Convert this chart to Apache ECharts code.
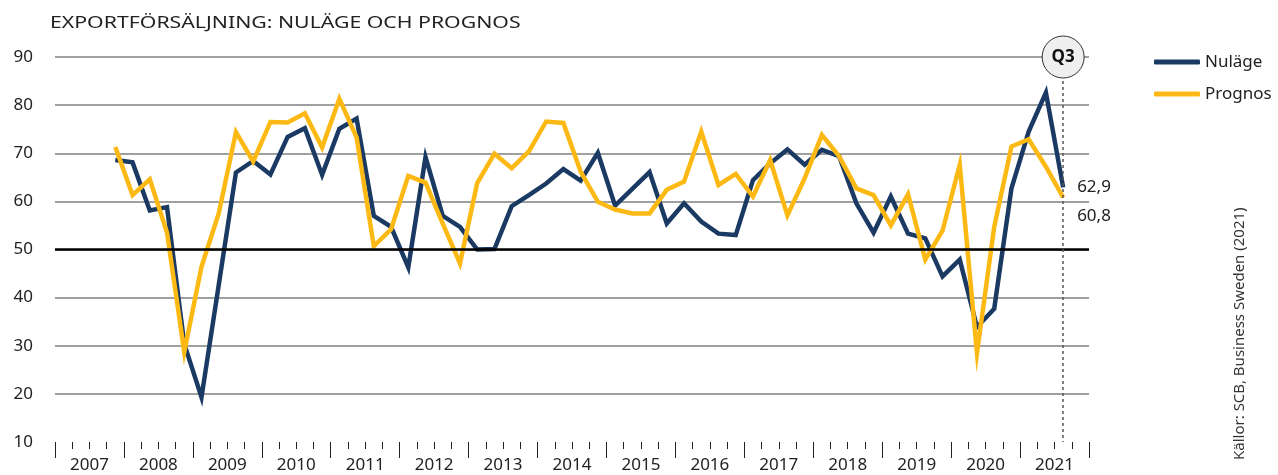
<!DOCTYPE html>
<html>
<head>
<meta charset="utf-8">
<script src="https://cdn.jsdelivr.net/npm/echarts@6/dist/echarts.min.js"></script>
<style>
html,body{margin:0;padding:0;background:#fff;}
#chart{width:1278px;height:475px;}
</style>
</head>
<body>
<div id="chart"></div>
<script>
// ---- Data ----
const years = ['2007','2008','2009','2010','2011','2012','2013','2014','2015','2016','2017','2018','2019','2020','2021'];
const quarters = ['Q1','Q2','Q3','Q4'];
const yTicks = [10, 20, 30, 40, 50, 60, 70, 80, 90];
// Nuläge, 2007Q1..2021Q4 (null = no data)
const nulage = [null, null, null, 68.6,
  68.1, 58.1, 58.8, 30.4,
  19.3, 42.6, 66.0, 68.4,
  65.6, 73.4, 75.2, 65.5,
  75.1, 77.2, 57.0, 54.7,
  46.3, 69.2, 57.0, 54.7,
  50.0, 50.1, 59.0, 61.3,
  63.7, 66.7, 64.3, 70.1,
  59.1, 62.6, 66.1, 55.4,
  59.6, 55.8, 53.3, 53.0,
  64.4, 67.9, 70.8, 67.6,
  70.7, 69.4, 59.6, 53.5,
  61.0, 53.3, 52.3, 44.4,
  47.9, 33.9, 37.7, 62.7,
  74.5, 82.6, 62.9, null];
// Prognos, 2007Q1..2021Q4
const prognos = [null, null, null, 71.3,
  61.3, 64.6, 53.5, 28.7,
  46.4, 57.5, 74.4, 68.3,
  76.5, 76.4, 78.3, 71.2,
  81.3, 73.3, 50.7, 54.2,
  65.3, 63.9, 55.4, 47.1,
  63.8, 69.9, 66.9, 70.4,
  76.6, 76.3, 66.2, 59.9,
  58.3, 57.5, 57.5, 62.4,
  64.1, 74.5, 63.4, 65.7,
  61.0, 68.6, 57.1, 64.8,
  73.8, 69.4, 62.7, 61.3,
  55.0, 61.5, 47.9, 53.9,
  67.6, 28.5, 54.7, 71.4,
  72.9, 67.2, 60.8, null];
const seriesNames = ['Nuläge', 'Prognos'];
const markerQuarter = '2021Q3';
const markerText = 'Q3';
const referenceLevel = 50;
const titleText = 'EXPORTFÖRSÄLJNING: NULÄGE OCH PROGNOS';
const sourceText = 'Källor: SCB, Business Sweden (2021)';

// ---- Build ----
const categories = [];
years.forEach(y => quarters.forEach(q => categories.push(y + q)));

const FONT = '"Noto Sans", sans-serif';
const NAVY = '#1b3a63';
const GOLD = '#fdb913';
const fmt = v => String(v).replace('.', ',');

const chart = echarts.init(document.getElementById('chart'), null, {renderer: 'canvas'});
chart.setOption({
  animation: false,
  backgroundColor: '#fff',
  textStyle: {fontFamily: FONT},
  legend: {
    orient: 'vertical',
    left: 1149, top: 47,
    itemWidth: 46, itemHeight: 5, itemGap: 12,
    icon: 'roundRect',
    textStyle: {fontFamily: FONT, fontSize: 17, color: '#222', lineHeight: 20},
    data: seriesNames
  },
  grid: {left: 55, right: 189, top: 57, bottom: 33, containLabel: false},
  xAxis: [
    {
      type: 'category', data: categories, boundaryGap: true, position: 'bottom',
      axisLine: {show: false},
      axisTick: {show: true, interval: 0, length: 7, lineStyle: {color: '#222', width: 1}},
      axisLabel: {show: false},
      splitLine: {show: false}
    },
    {
      type: 'category', data: years, boundaryGap: true, position: 'bottom',
      axisLine: {show: false},
      axisTick: {show: true, interval: 0, length: 16, lineStyle: {color: '#222', width: 1}},
      axisLabel: {show: true, interval: 0, margin: 15, fontFamily: FONT, fontSize: 17, color: '#222'},
      splitLine: {show: false}
    }
  ],
  yAxis: {
    type: 'value', min: yTicks[0], max: yTicks[yTicks.length - 1], interval: 10,
    axisLine: {show: false}, axisTick: {show: false},
    axisLabel: {margin: 22, fontFamily: FONT, fontSize: 17, color: '#222', align: 'right'},
    splitLine: {show: true, showMinLine: false, lineStyle: {color: '#808080', width: 1.5}}
  },
  series: [
    {
      name: seriesNames[0], type: 'line', data: nulage, xAxisIndex: 0,
      symbol: 'none', connectNulls: false,
      lineStyle: {color: NAVY, width: 4.5, join: 'miter'},
      itemStyle: {color: NAVY},
      endLabel: {show: true, distance: 14, formatter: p => fmt(p.value), fontFamily: FONT, fontSize: 17, color: '#222'},
      markLine: {
        silent: true, symbol: 'none', label: {show: false}, animation: false,
        data: [
          {yAxis: referenceLevel, lineStyle: {color: '#000', width: 2.5, type: 'solid'}},
          [{coord: [markerQuarter, yTicks[yTicks.length - 1]], lineStyle: {color: '#555', width: 1.5, type: [3, 3]}},
           {coord: [markerQuarter, yTicks[0]]}]
        ]
      },
      z: 2
    },
    {
      name: seriesNames[1], type: 'line', data: prognos, xAxisIndex: 0,
      symbol: 'none',
      lineStyle: {color: GOLD, width: 4.5, join: 'miter'},
      itemStyle: {color: GOLD},
      endLabel: {show: true, distance: 14, offset: [0, 19], formatter: p => fmt(p.value), fontFamily: FONT, fontSize: 17, color: '#222'},
      markPoint: {
        silent: true, symbol: 'circle', symbolSize: 42, animation: false,
        itemStyle: {color: '#efefef', borderColor: '#333', borderWidth: 1},
        label: {show: true, position: 'inside', formatter: markerText, fontFamily: FONT, fontWeight: 'bold', fontSize: 17, color: '#111'},
        data: [{coord: [markerQuarter, yTicks[yTicks.length - 1]]}]
      },
      z: 3
    }
  ],
  graphic: [
    {
      type: 'text', x: 50, y: 15, scaleX: 1.25,
      style: {text: titleText, font: 'normal 400 17px "Noto Sans", sans-serif', fill: '#222', textAlign: 'left', textVerticalAlign: 'top'}
    },
    {
      type: 'text', x: 1240, y: 460, rotation: Math.PI / 2,
      style: {text: sourceText, font: 'normal 400 15px "Noto Sans", sans-serif', fill: '#333', textAlign: 'left', textVerticalAlign: 'middle'}
    }
  ]
});
</script>
</body>
</html>
